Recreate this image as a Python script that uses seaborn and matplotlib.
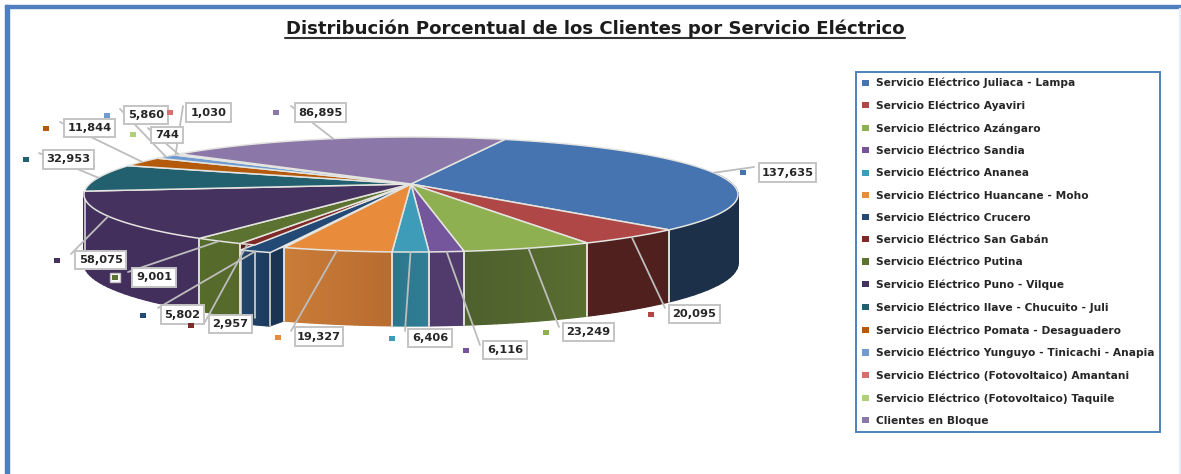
import numpy as np
import matplotlib
matplotlib.use('Agg')
import matplotlib.pyplot as plt
import matplotlib.colors as mcolors
from matplotlib.patches import Patch, Rectangle
import seaborn as sns

# Data
servicios = [
    'Servicio Eléctrico Juliaca - Lampa', 'Servicio Eléctrico Ayaviri',
    'Servicio Eléctrico Azángaro', 'Servicio Eléctrico Sandia',
    'Servicio Eléctrico Ananea', 'Servicio Eléctrico Huancane - Moho',
    'Servicio Eléctrico Crucero', 'Servicio Eléctrico San Gabán',
    'Servicio Eléctrico Putina', 'Servicio Eléctrico Puno - Vilque',
    'Servicio Eléctrico Ilave - Chucuito - Juli', 'Servicio Eléctrico Pomata - Desaguadero',
    'Servicio Eléctrico Yunguyo - Tinicachi - Anapia', 'Servicio Eléctrico (Fotovoltaico) Amantani',
    'Servicio Eléctrico (Fotovoltaico) Taquile', 'Clientes en Bloque',
]
clientes = [137635, 20095, 23249, 6116, 6406, 19327, 5802, 2957,
            9001, 58075, 32953, 11844, 5860, 1030, 744, 86895]
titulo = 'Distribución Porcentual de los Clientes por Servicio Eléctrico'

# Colours
top_colors = ['#4674b0', '#ae4745', '#8fb050', '#75559b', '#3f9cb8', '#e88c3c',
              '#234a75', '#7f2a28', '#5b7230', '#46325f', '#22606f', '#b45a0c',
              '#6f9bd0', '#d96f6c', '#b0cf78', '#8b78a8']
side_left = {0: '#1c3049', 1: '#4f201e', 2: '#5a6e31', 3: '#503b6c', 4: '#2f7f95',
             5: '#b86c30', 6: '#1c3a5e', 7: '#5a1d1c', 8: '#56692b', 9: '#432f5c'}
side_right = {0: '#1c3049', 1: '#4f201e', 2: '#4e602d', 3: '#503b6c', 4: '#2d768c',
              5: '#ca7c38', 6: '#234569', 7: '#5a1d1c', 8: '#566c2b', 9: '#432f5c'}
EDGE = '#e4e4e0'

# Pie layout in pixels, perspective plane
HUB_X, HUB_Y = 411, 184
RX, RY, PERSP = 321.5, 55.6, 0.1827
DEPTH, DEPTH_PERSP = 68, 0.08
START_ANGLE = 70
EXPLODE_DX, EXPLODE_DY = -14, 5  # Crucero is pulled out of the pie
WALL_FROM, WALL_TO = 10, -190


def rim(theta):
    # Point on the top rim for an angle in degrees
    t = np.radians(theta)
    x, y = np.cos(t), np.sin(t)
    w = 1 + PERSP * y
    return HUB_X + RX * x / w, HUB_Y - RY * y / w


def depth(theta):
    return DEPTH / (1 + DEPTH_PERSP * np.sin(np.radians(theta)))


def lerp_color(c1, c2, f):
    a, b = np.array(mcolors.to_rgb(c1)), np.array(mcolors.to_rgb(c2))
    return a + (b - a) * f


sns.set_theme(style='white')
plt.rcParams['font.family'] = ['DejaVu Sans']

fig = plt.figure(figsize=(11.81, 4.74), dpi=100)
ax = fig.add_axes([0, 0, 1, 1])
ax.set_xlim(0, 1181)
ax.set_ylim(474, 0)
ax.axis('off')

# Slide frame
ax.add_patch(Rectangle((5, 5), 1176, 3, color='#4f7fbf', zorder=1))
ax.add_patch(Rectangle((5, 5), 4, 469, color='#4f7fbf', zorder=1))
ax.add_patch(Rectangle((1179, 8), 2, 466, color='#e4edf8', zorder=1))

fractions = np.array(clientes) / sum(clientes)
ends = START_ANGLE - np.cumsum(fractions) * 360
starts = np.r_[START_ANGLE, ends[:-1]]
mids = (starts + ends) / 2
crucero = servicios.index('Servicio Eléctrico Crucero')

# Side walls, only the front part of the pie shows them
for i in range(len(clientes)):
    if i not in side_left:
        continue
    a, b = min(starts[i], WALL_FROM), max(ends[i], WALL_TO)
    if a <= b:
        continue
    dx, dy = (EXPLODE_DX, EXPLODE_DY) if i == crucero else (0, 0)
    steps = np.linspace(a, b, 25)
    for j in range(len(steps) - 1):
        xs0, ys0 = rim(steps[j])
        xs1, ys1 = rim(steps[j + 1])
        d0, d1 = depth(steps[j]), depth(steps[j + 1])
        c = lerp_color(side_left[i], side_right[i], j / 23)
        ax.fill([xs0 + dx, xs1 + dx, xs1 + dx, xs0 + dx],
                [ys0 + dy, ys1 + dy, ys1 + d1 + dy, ys0 + d0 + dy],
                facecolor=c, edgecolor=c, lw=0.9, zorder=3 + (1 if i == crucero else 0))
    x0, y0 = rim(a)
    x1, y1 = rim(b)
    # Seams between walls, not where the wall just runs out of sight
    if a != WALL_FROM:
        ax.plot([x0 + dx, x0 + dx], [y0 + dy, y0 + depth(a) + dy], color=EDGE, lw=1.1, zorder=5)
    if b != WALL_TO:
        ax.plot([x1 + dx, x1 + dx], [y1 + dy, y1 + depth(b) + dy], color=EDGE, lw=1.1, zorder=5)
    if i == crucero:
        # Cut face left open by the explosion
        ax.fill([x0, x0 + dx, x0 + dx, x0], [y0, y0 + dy, y0 + dy + depth(a), y0 + depth(a)],
                color='#1b3453', lw=0.4, zorder=4)
        ax.plot([x0, x0], [y0, y0 + depth(a)], color=EDGE, lw=1.1, zorder=5)

# Top faces
for i in range(len(clientes)):
    dx, dy = (EXPLODE_DX, EXPLODE_DY) if i == crucero else (0, 0)
    steps = np.linspace(starts[i], ends[i], 80)
    xs, ys = rim(steps)
    ax.fill(np.r_[HUB_X, xs + dx], np.r_[HUB_Y, ys + dy], facecolor=top_colors[i],
            edgecolor=EDGE, lw=1.1, joinstyle='round', zorder=6)

# Callouts, in the same order as clientes: box left, box top, box right, box bottom
cajas = [(759, 163, 816, 182), (669, 305, 720, 323), (563, 323, 614, 341), (483, 341, 527, 359),
         (408, 329, 452, 347), (295, 327, 343, 346), (161, 305, 204, 324), (209, 315, 252, 333),
         (132, 268, 176, 287), (75, 251, 126, 269), (43, 150, 94, 169), (64, 119, 115, 137),
         (124, 106, 168, 124), (186, 103, 231, 122), (151, 127, 183, 143), (295, 103, 346, 122)]
marcas = [(743, 172), (651, 314), (546, 332), (466, 350), (392, 338), (278, 337), (143, 315), (191, 325),
          (115, 277), (57, 260), (26, 159), (46, 128), (107, 115), (170, 112), (133, 134), (276, 112)]
remates = [(754, 167), (665, 308), (559, 327), (480, 345), (405, 331), (291, 331), (158, 308), (205, 322),
           (128, 272), (71, 254), (39, 153), (60, 122), (120, 109), (183, 106), (148, 128), (291, 106)]

for i, valor in enumerate(clientes):
    x0, y0, x1, y1 = cajas[i]
    rx, ry = rim(mids[i])
    if i == crucero:
        rx, ry = rx + EXPLODE_DX, ry + EXPLODE_DY
    ax.plot([rx, remates[i][0]], [ry, remates[i][1]], color='#bdbdbd', lw=1.3, zorder=7)
    ax.add_patch(Rectangle((x0, y0), x1 - x0, y1 - y0, facecolor='white', edgecolor='#c4c4c4',
                           lw=1.4, zorder=8))
    ax.text((x0 + x1) / 2, (y0 + y1) / 2, f'{valor:,}', ha='center', va='center', fontsize=8.2,
            fontweight='bold', color='#262626', zorder=9)
    mx, my = marcas[i]
    if servicios[i].endswith('Putina'):
        # This swatch has its own little box in the original
        ax.add_patch(Rectangle((mx - 5, my - 4.5), 10, 9, facecolor='white', edgecolor='#c4c4c4', lw=1, zorder=8))
    ax.add_patch(Rectangle((mx - 3, my - 2.5), 6, 5, facecolor=top_colors[i], edgecolor='none', zorder=9))

# Title, underlined by hand
ax.text(595, 28.5, titulo, ha='center', va='center', fontsize=13.05, fontweight='bold', color='#1c1c1c')
ax.plot([285, 905], [37.5, 37.5], color='#333333', lw=1.5)

# Legend
handles = [Patch(facecolor=c, edgecolor='none') for c in top_colors]
leg = ax.legend(handles, servicios, loc='upper left', bbox_to_anchor=(856 / 1181, 1 - 72 / 474),
                prop={'size': 7.7, 'weight': 'bold'}, frameon=True, fancybox=False, edgecolor='#4f81bd',
                framealpha=1, handlelength=0.65, handleheight=0.5, handletextpad=0.65,
                labelspacing=1.145, borderpad=0.55, borderaxespad=0, labelcolor='#262626')
leg.get_frame().set_linewidth(1.4)
leg.set_zorder(10)

fig.savefig('out.png', dpi=100, facecolor='white')
